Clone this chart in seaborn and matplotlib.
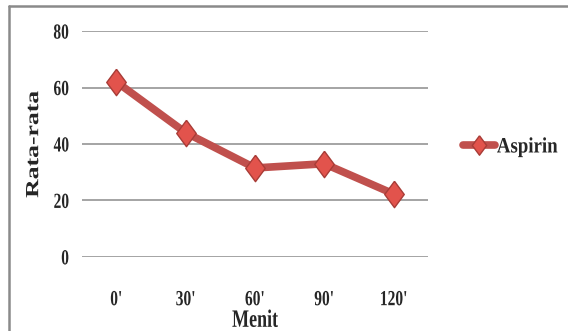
import matplotlib
matplotlib.use("Agg")
import matplotlib.pyplot as plt
from matplotlib.lines import Line2D
from matplotlib.patheffects import AbstractPathEffect
from matplotlib.transforms import Affine2D
import seaborn as sns
import pandas as pd
import numpy as np

# Mean response over time
menit = ["0'", "30'", "60'", "90'", "120'"]
aspirin = [62, 44, 31.5, 33, 22.3]
y_ticks = [0, 20, 40, 60, 80]

sns.set_theme(style="white")
plt.rcParams["font.family"] = ["Liberation Serif", "DejaVu Serif"]
plt.rcParams["font.weight"] = "bold"


class Condense(AbstractPathEffect):
    """Narrow the glyphs of a text along the horizontal page direction."""

    def __init__(self, factor=0.72, along="x", anchor="center"):
        super().__init__()
        self.factor = factor
        self.along = along
        self.anchor = anchor

    def draw_path(self, renderer, gc, tpath, affine, rgbFace=None):
        ext = tpath.get_extents()
        if self.along == "x":
            if self.anchor == "right":
                c = ext.x1
            elif self.anchor == "left":
                c = ext.x0
            else:
                c = 0.5 * (ext.x0 + ext.x1)
            pre = Affine2D().translate(-c, 0).scale(self.factor, 1).translate(c, 0)
        else:
            c = 0.5 * (ext.y0 + ext.y1)
            pre = Affine2D().translate(0, -c).scale(1, self.factor).translate(0, c)
        renderer.draw_path(gc, tpath, pre + affine, rgbFace)


SQ = 0.72
df = pd.DataFrame({"pos": np.arange(len(menit)), "nilai": aspirin})

fig = plt.figure(figsize=(5.68, 3.31), dpi=100)
ax = fig.add_axes([0.144, 0.224, 0.61, 0.682])

line_red = "#C0504D"
fill_red = "#E2534C"
edge_red = "#A83C37"
diamond = [(0, 1), (0.74, 0), (0, -1), (-0.74, 0), (0, 1)]

sns.lineplot(data=df, x="pos", y="nilai", ax=ax, sort=False,
             color=line_red, linewidth=5.5, marker=diamond, markersize=19,
             markerfacecolor=fill_red, markeredgecolor=edge_red,
             markeredgewidth=1.0, zorder=3)

ax.set_xlim(-0.5, len(menit) - 0.5)
ax.set_ylim(0, 80)
ax.set_yticks(y_ticks)
ax.set_yticklabels([str(v) for v in y_ticks])
ax.set_xticks(np.arange(len(menit)))
ax.set_xticklabels(menit)
ax.tick_params(axis="x", length=0, pad=24, labelsize=15.5)
ax.tick_params(axis="y", length=0, pad=9, labelsize=15.5)
for t in ax.get_xticklabels():
    t.set_fontweight("bold")
    t.set_path_effects([Condense(SQ, "x", "center")])
for t in ax.get_yticklabels():
    t.set_fontweight("bold")
    t.set_path_effects([Condense(SQ, "x", "right")])

ax.yaxis.grid(True, color="#8C8C8C", linewidth=1.1)
ax.xaxis.grid(False)
for s in ax.spines.values():
    s.set_visible(False)

ax.set_xlabel("Menit", fontsize=18, fontweight="bold", labelpad=-1)
ax.xaxis.label.set_path_effects([Condense(SQ, "x", "center")])
ax.set_ylabel("Rata-rata", fontsize=18.5, fontweight="bold", labelpad=1.5)
ax.yaxis.label.set_path_effects([Condense(SQ, "y")])

handle = Line2D([], [], color=line_red, linewidth=5.5, marker=diamond,
                markersize=14, markerfacecolor=fill_red,
                markeredgecolor=edge_red)
leg = fig.legend([handle], ["Aspirin"], loc="center left",
                 bbox_to_anchor=(0.78, 0.555), frameon=False,
                 handlelength=1.45, handletextpad=0.1,
                 prop={"family": "Liberation Serif", "weight": "bold", "size": 15.8})
for t in leg.get_texts():
    t.set_path_effects([Condense(0.86, "x", "left")])

# chart frame
fig.add_artist(plt.Line2D([8.5 / 568, 8.5 / 568], [0, 1 - 5.5 / 331],
                          transform=fig.transFigure, color="#8A8A8A", linewidth=1.8))
fig.add_artist(plt.Line2D([8.5 / 568, 1], [1 - 5.5 / 331, 1 - 5.5 / 331],
                          transform=fig.transFigure, color="#8A8A8A", linewidth=1.8))

fig.savefig("out.png", dpi=100)
